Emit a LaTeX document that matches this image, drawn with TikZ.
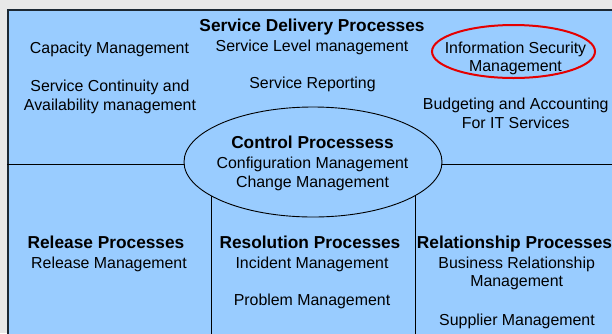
\documentclass[tikz,border=0pt]{standalone}
\usepackage{fontspec}
\setmainfont{Liberation Sans}
\usetikzlibrary{shapes.geometric}
\definecolor{bggray}{HTML}{E8E8E8}
\definecolor{boxblue}{HTML}{99CCFF}
\definecolor{edgecol}{HTML}{1C2833}
\begin{document}
\begin{tikzpicture}[x=1pt,y=-1pt,
  txt/.style={font=\fontsize{15.9}{18.5}\selectfont, align=center, anchor=base, inner sep=0pt},
  ttl/.style={font=\fontsize{17.3}{20}\selectfont\bfseries, anchor=base, inner sep=0pt},
  divline/.style={draw=black, line width=0.9pt}]
\useasboundingbox (0,0) rectangle (612,333);
\clip (0,0) rectangle (612,333);
\fill[bggray] (0,0) rectangle (612,333);
\node[draw=edgecol, line width=1.5pt, fill=boxblue, anchor=north west,
      minimum width=640pt, minimum height=360pt, inner sep=0pt] (box) at (7,9) {};
% dividers (the control ellipse is drawn over them)
\coordinate (hl) at (7,164);
\coordinate (hr) at (640,164);
\coordinate (v1t) at (211,170);
\coordinate (v1b) at (211,345);
\coordinate (v2t) at (415,170);
\coordinate (v2b) at (415,345);
\draw[divline] (hl) -- (hr);
\draw[divline] (v1t) -- (v1b);
\draw[divline] (v2t) -- (v2b);
% control ellipse
\node[ellipse, draw=black, line width=0.9pt, fill=boxblue, minimum width=258pt,
      minimum height=110pt, inner sep=0pt] (ctrl) at (313,162) {};
% security ring
\node[ellipse, draw=red!90!black, line width=2pt, minimum width=163pt,
      minimum height=53pt, inner sep=0pt] (ring) at (513.5,51.5) {};
% top texts (multi-line nodes are placed by the baseline of their last line)
\node[ttl] (sdp) at (312,31.7) {Service Delivery Processes};
\node[txt] (slm) at (312,51) {Service Level management};
\node[txt] (sr) at (312.5,88) {Service Reporting};
\node[txt] (cap) at (109.5,53) {Capacity Management};
\node[txt] (sca) at (110,110) {Service Continuity and\\Availability management};
\node[txt] (ism) at (515.5,71.7) {Information Security\\Management};
\node[txt] (bud) at (515.8,128.3) {Budgeting and Accounting\\For IT Services};
% control texts
\node[ttl] (ctt) at (312.5,148.3) {Control Processess};
\node[txt] (cfg) at (312.5,187) {Configuration Management\\Change Management};
% bottom texts
\node[ttl] (relt) at (106,248.3) {Release Processes};
\node[txt] (relm) at (109,268.3) {Release Management};
\node[ttl] (rest) at (310,248.3) {Resolution Processes};
\node[txt] (inc) at (312,268.3) {Incident Management};
\node[txt] (prb) at (312,305.7) {Problem Management};
\node[ttl] (rlt) at (514.5,248.3) {Relationship Processes};
\node[txt] (brm) at (516.7,286.7) {Business Relationship\\Management};
\node[txt] (sup) at (517,325) {Supplier Management};
\end{tikzpicture}
\end{document}
